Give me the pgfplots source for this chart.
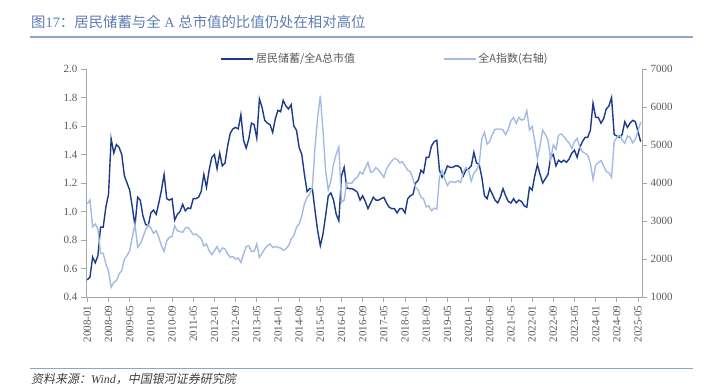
\documentclass[border=0pt]{standalone}
\usepackage{fontspec}
\setmainfont{Liberation Serif}
\newfontfamily\cjk{Noto Sans CJK SC}
\newfontfamily\cjkit[FakeSlant=0.2]{Noto Sans CJK SC}
\usepackage{pgfplots}
\pgfplotsset{compat=1.18}
\usepackage{pgfplotstable}
\definecolor{darkline}{HTML}{1C3A8C}
\definecolor{lightline}{HTML}{A3BBE2}
\definecolor{titleblue}{HTML}{5D7CB3}
\definecolor{rulecol}{HTML}{8CA5CD}
\definecolor{tickgray}{HTML}{595959}
\definecolor{axisgray}{HTML}{A6A6A6}

\pgfplotstableread{
m d l
0 0.52 3450
1 0.54 3550
2 0.68 2850
3 0.64 2920
4 0.69 2790
5 0.89 2150
6 0.89 2150
7 1.03 1870
8 1.12 1690
9 1.51 1255
10 1.41 1385
11 1.47 1430
12 1.45 1605
13 1.40 1690
14 1.25 2000
15 1.20 2090
16 1.15 2220
17 1.03 2570
18 0.90 2920
19 1.10 2305
20 1.08 2395
21 0.97 2570
22 0.91 2760
23 0.90 2900
24 0.99 2815
25 1.01 2675
26 0.98 2745
27 1.06 2570
28 1.15 2350
29 1.26 2200
30 1.09 2480
31 1.08 2570
32 1.09 2590
33 0.94 2875
34 0.98 2745
35 1.00 2720
36 1.05 2700
37 1.005 2815
38 1.025 2833
39 1.02 2745
40 1.09 2640
41 1.09 2658
42 1.10 2600
43 1.14 2540
44 1.26 2340
45 1.17 2395
46 1.29 2220
47 1.38 2115
48 1.40 2220
49 1.30 2325
50 1.41 2175
51 1.32 2290
52 1.34 2265
53 1.46 2130
54 1.55 2045
55 1.58 2060
56 1.59 2000
57 1.58 2025
58 1.68 1910
59 1.50 2130
60 1.445 2325
61 1.51 2350
62 1.62 2200
63 1.61 2200
64 1.515 2395
65 1.79 2045
66 1.73 2150
67 1.64 2265
68 1.62 2350
69 1.61 2395
70 1.555 2305
71 1.65 2325
72 1.71 2305
73 1.70 2290
74 1.78 2235
75 1.74 2265
76 1.72 2350
77 1.75 2525
78 1.60 2615
79 1.57 2833
80 1.45 2920
81 1.40 3140
82 1.26 3450
83 1.14 3620
84 1.16 3710
85 1.16 3885
86 1.005 4945
87 0.865 5730
88 0.76 6300
89 0.84 5385
90 0.97 4330
91 1.11 3815
92 1.13 4060
93 1.08 4500
94 0.98 4760
95 0.935 4945
96 1.25 3490
97 1.31 3550
98 1.165 4015
99 1.16 3990
100 1.16 4000
101 1.15 4105
102 1.135 4150
103 1.08 4290
104 1.11 4235
105 1.07 4400
106 1.02 4545
107 1.06 4280
108 1.10 4305
109 1.08 4410
110 1.08 4340
111 1.09 4250
112 1.10 4150
113 1.06 4370
114 1.03 4490
115 1.02 4580
116 1.02 4650
117 0.99 4620
118 1.02 4530
119 1.02 4560
120 0.99 4450
121 1.09 4340
122 1.11 4300
123 1.12 4110
124 1.20 3885
125 1.22 3815
126 1.29 3630
127 1.27 3580
128 1.38 3370
129 1.38 3400
130 1.46 3270
131 1.49 3335
132 1.50 3315
133 1.29 4150
134 1.24 4325
135 1.27 4105
136 1.32 3935
137 1.31 4040
138 1.31 4030
139 1.32 4015
140 1.32 4060
141 1.305 4015
142 1.25 4280
143 1.29 4410
144 1.30 4340
145 1.32 4045
146 1.415 4255
147 1.34 4340
148 1.33 4500
149 1.24 5175
150 1.11 5330
151 1.09 5025
152 1.16 5095
153 1.12 5290
154 1.08 5410
155 1.06 5420
156 1.10 5420
157 1.16 5395
158 1.11 5270
159 1.07 5420
160 1.06 5640
161 1.09 5725
162 1.06 5570
163 1.08 5725
164 1.07 5655
165 1.04 5680
166 1.03 5900
167 1.17 5395
168 1.15 5490
169 1.25 5100
170 1.33 4640
171 1.26 4990
172 1.20 5390
173 1.23 5280
174 1.26 5130
175 1.38 4620
176 1.40 5000
177 1.32 4885
178 1.36 5260
179 1.345 5290
180 1.36 5220
181 1.345 5130
182 1.37 5045
183 1.41 4910
184 1.43 5085
185 1.38 5175
186 1.45 4940
187 1.49 4825
188 1.52 4780
189 1.52 4735
190 1.57 4515
191 1.76 4095
192 1.66 4470
193 1.66 4535
194 1.62 4590
195 1.65 4450
196 1.72 4300
197 1.74 4270
198 1.80 4150
199 1.54 5085
200 1.53 5200
201 1.52 5260
202 1.54 5130
203 1.63 5045
204 1.59 5235
205 1.62 5200
206 1.64 5060
207 1.63 5150
208 1.56 5375
209 1.49 5600
}\datatable

\pgfplotsset{
  common/.style={
    at={(86pt,89pt)}, anchor=south west,
    scale only axis, width=556pt, height=228pt,
    xmin=-0.5, xmax=209.5,
    tick align=outside,
    major tick length=5pt,
    axis line style={axisgray, line width=0.8pt},
    tick style={axisgray, line width=0.8pt},
    ticklabel style={font=\fontsize{11}{13}\selectfont, text=tickgray},
    /pgf/number format/assume math mode=true,
    clip=false,
  }
}

\begin{document}
\begin{tikzpicture}[x=1pt,y=1pt]
\useasboundingbox (0pt,0pt) rectangle (713pt,386pt);
% title
\node[anchor=base west, inner sep=0pt, text=titleblue, font=\fontsize{14.4}{16}\selectfont] at (31pt,358pt)
  {{\cjk 图}17{\cjk ：居民储蓄与全} A {\cjk 总市值的比值仍处在相对高位}};
\draw[rulecol, line width=2pt] (30pt,349pt) -- (693pt,349pt);
% footer
\draw[rulecol, line width=1pt] (30pt,17pt) -- (693pt,17pt);
\node[anchor=base west, inner sep=0pt, text=black!75, font=\fontsize{12}{14}\selectfont] at (31pt,2.5pt)
  {{\cjkit 资料来源：}\textit{Wind}{\cjkit ，中国银河证券研究院}};

\begin{axis}[common,
  ymin=0.4, ymax=2.0,
  ytick={0.4,0.6,...,2.01},
  yticklabel style={/pgf/number format/.cd, fixed, fixed zerofill, precision=1},
  axis y line*=left, axis x line*=bottom,
  xtick={0,8,...,208},
  xticklabels={2008-01,2008-09,2009-05,2010-01,2010-09,2011-05,2012-01,2012-09,2013-05,2014-01,2014-09,2015-05,2016-01,2016-09,2017-05,2018-01,2018-09,2019-05,2020-01,2020-09,2021-05,2022-01,2022-09,2023-05,2024-01,2024-09,2025-05},
  xticklabel style={rotate=90, anchor=east},
  legend style={at={(axis description cs:0.538,1.044)}, anchor=center, draw=none, fill=none,
    legend columns=2, font=\fontsize{11}{13}\selectfont, text=tickgray,
    /tikz/every even column/.append style={column sep=86pt}},
  legend image code/.code={\draw[#1] (0pt,0pt) -- (32pt,0pt);},
]
\addplot[darkline, line width=1.4pt, no marks] table[x=m, y=d] {\datatable};
\addlegendentry{{\cjk 居民储蓄/全A总市值}}
\addlegendimage{lightline, line width=1.4pt}
\addlegendentry{{\cjk 全A指数(右轴)}}
\end{axis}

\begin{axis}[common,
  ymin=1000, ymax=7000,
  ytick={1000,2000,...,7000},
  yticklabel style={/pgf/number format/.cd, set thousands separator={}},
  axis y line*=right, axis x line=none,
  xtick=\empty,
]
\addplot[lightline, line width=1.4pt, no marks] table[x=m, y=l] {\datatable};
\end{axis}
\end{tikzpicture}
\end{document}
